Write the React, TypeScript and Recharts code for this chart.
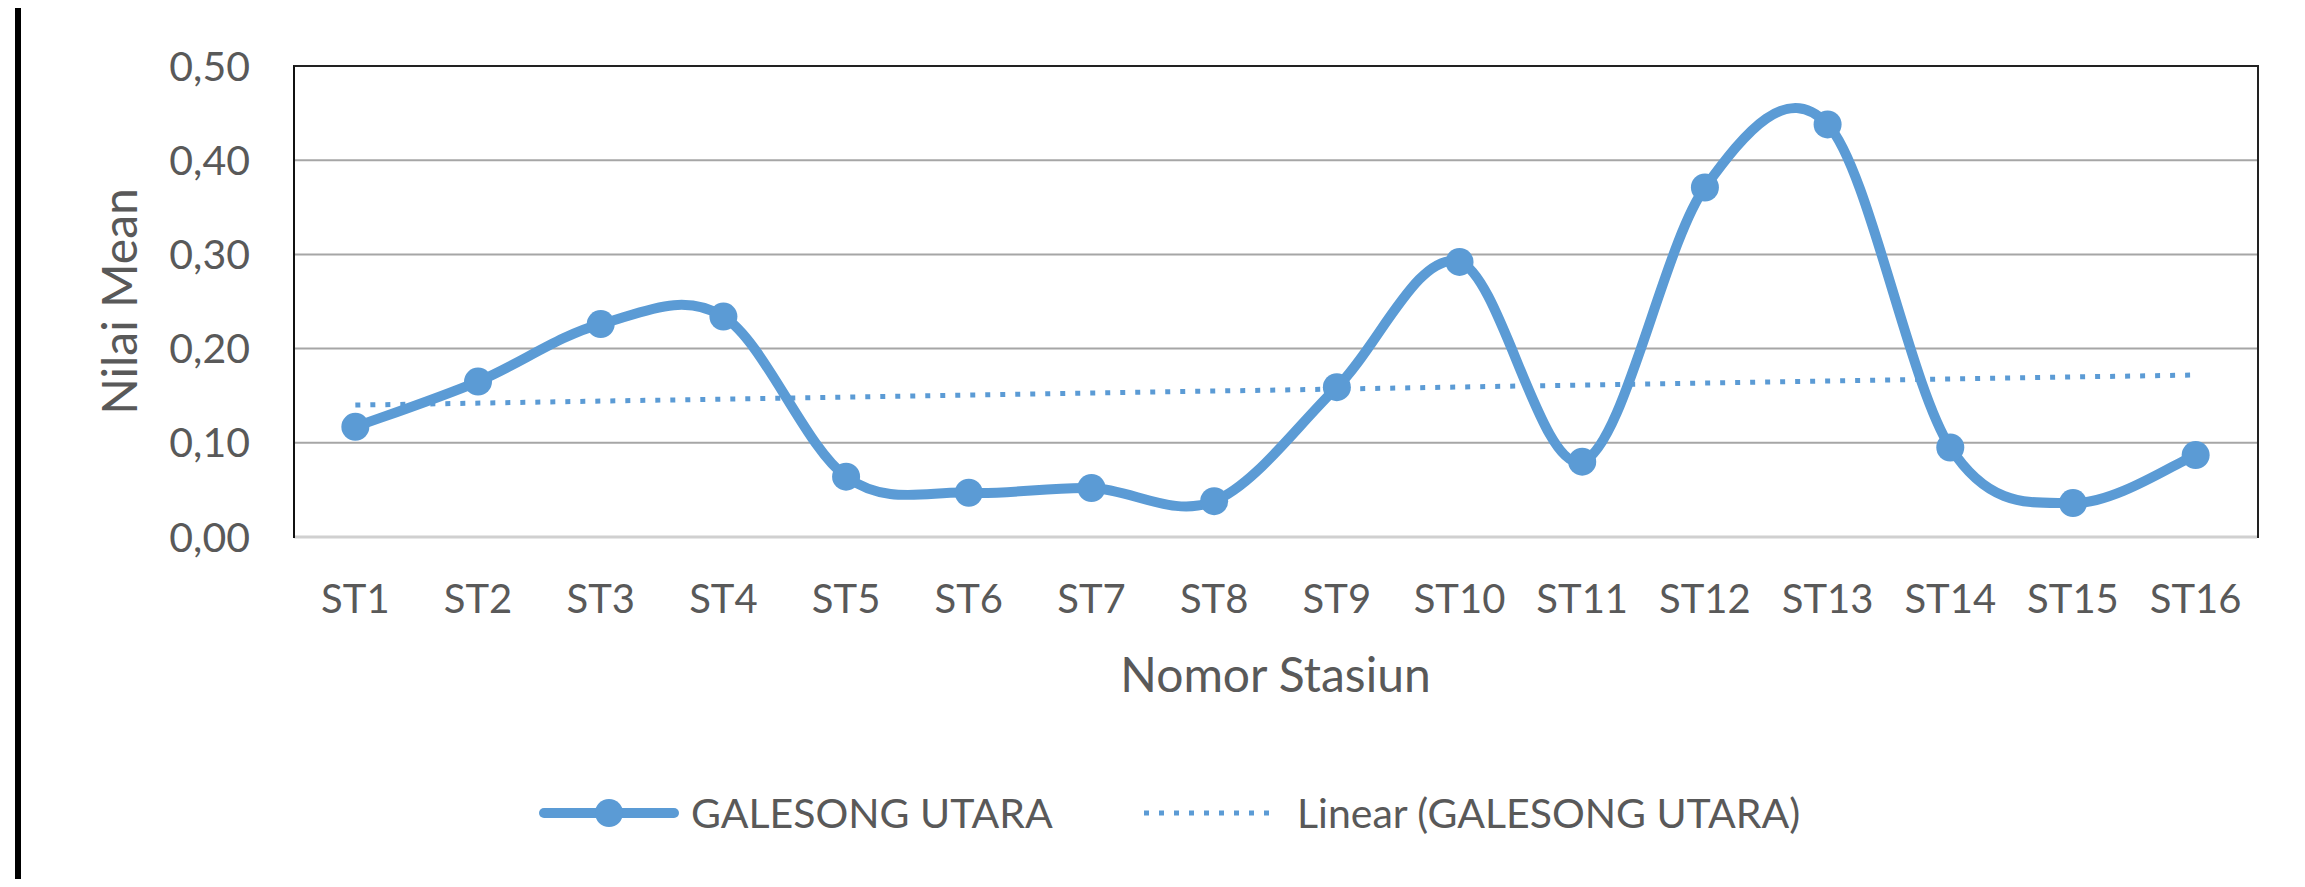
import React from "react";
import {
  LineChart,
  Line,
  XAxis,
  YAxis,
  CartesianGrid,
  Label,
} from "recharts";

const STATIONS = [
  "ST1", "ST2", "ST3", "ST4", "ST5", "ST6", "ST7", "ST8",
  "ST9", "ST10", "ST11", "ST12", "ST13", "ST14", "ST15", "ST16",
];
const MEAN_VALUES = [
  0.117, 0.165, 0.226, 0.234, 0.064, 0.047, 0.052, 0.038,
  0.159, 0.292, 0.080, 0.371, 0.438, 0.095, 0.036, 0.087,
];
// linear trend: value at the first and last station
const TREND_ENDS = [0.140, 0.172];
const Y_TICKS = [0, 0.1, 0.2, 0.3, 0.4, 0.5];

const SERIES_NAME = "GALESONG UTARA";
const TREND_NAME = "Linear (GALESONG UTARA)";

const BLUE = "#5B9BD5";
const TEXT = "#595959";
const FONT = "Lato, 'Open Sans', sans-serif";

const W = 2289;
const H = 871;
const PLOT = { left: 286, top: 58, right: 2249, bottom: 529 };

const rows = STATIONS.map((st, i) => ({
  st,
  mean: MEAN_VALUES[i],
  trend: i === 0 ? TREND_ENDS[0] : i === STATIONS.length - 1 ? TREND_ENDS[1] : null,
}));

const fmt = (v: number) => v.toFixed(2).replace(".", ",");

// Office-style smoothed line: cubic bezier through every point,
// control points taken from the neighbours (Catmull-Rom, 1/6 tension)
function smoothCurve(ctx: any) {
  let pts: [number, number][] = [];
  return {
    areaStart() {},
    areaEnd() {},
    lineStart() {
      pts = [];
    },
    point(x: number, y: number) {
      pts.push([+x, +y]);
    },
    lineEnd() {
      const n = pts.length;
      if (!n) return;
      ctx.moveTo(pts[0][0], pts[0][1]);
      for (let i = 0; i < n - 1; i++) {
        const p0 = pts[i - 1] ?? pts[i];
        const p1 = pts[i];
        const p2 = pts[i + 1];
        const p3 = pts[i + 2] ?? p2;
        ctx.bezierCurveTo(
          p1[0] + (p2[0] - p0[0]) / 6,
          p1[1] + (p2[1] - p0[1]) / 6,
          p2[0] - (p3[0] - p1[0]) / 6,
          p2[1] - (p3[1] - p1[1]) / 6,
          p2[0],
          p2[1]
        );
      }
    },
  };
}

function LegendBox() {
  const txt: React.CSSProperties = {
    position: "absolute",
    top: 0,
    fontFamily: FONT,
    fontSize: 41,
    color: TEXT,
    lineHeight: "50px",
    whiteSpace: "nowrap",
  };
  return (
    <div style={{ position: "absolute", left: 0, top: 780, width: W, height: 50 }}>
      <svg style={{ position: "absolute", left: 531, top: 0 }} width={140} height={50}>
        <line x1={5} y1={25} x2={135} y2={25} stroke={BLUE} strokeWidth={10} strokeLinecap="round" />
        <circle cx={70} cy={25} r={14} fill={BLUE} />
      </svg>
      <span style={{ ...txt, left: 683 }}>{SERIES_NAME}</span>
      <svg style={{ position: "absolute", left: 1136, top: 0 }} width={135} height={50}>
        <line x1={0} y1={25} x2={135} y2={25} stroke={BLUE} strokeWidth={5} strokeDasharray="5 10" />
      </svg>
      <span style={{ ...txt, left: 1289 }}>{TREND_NAME}</span>
    </div>
  );
}

export default function App() {
  return (
    <div style={{ position: "relative", width: W, height: H, background: "#fff" }}>
      {/* frame edge on the left */}
      <div style={{ position: "absolute", left: 7, top: -8, width: 6, height: 887, background: "#000" }} />
      <LineChart
        width={W}
        height={H}
        data={rows}
        margin={{ top: PLOT.top, right: W - PLOT.right, left: PLOT.left - 100, bottom: H - PLOT.bottom - 100 }}
        style={{ fontFamily: FONT }}
      >
        <CartesianGrid horizontal vertical={false} stroke="#a6a6a6" strokeWidth={2} />
        <XAxis
          dataKey="st"
          scale="band"
          height={100}
          tickLine={false}
          tickMargin={42}
          axisLine={{ stroke: "#d0d0d0", strokeWidth: 3 }}
          tick={{ fontSize: 40, fill: TEXT, fontFamily: FONT }}
          interval={0}
        >
          <Label
            content={({ viewBox }: any) => (
              <text
                x={viewBox.x + viewBox.width / 2}
                y={viewBox.y + 155}
                textAnchor="middle"
                fontSize={48}
                fill={TEXT}
                fontFamily={FONT}
              >
                Nomor Stasiun
              </text>
            )}
          />
        </XAxis>
        <YAxis
          domain={[0, 0.5]}
          ticks={Y_TICKS}
          tickFormatter={fmt}
          width={100}
          tickLine={false}
          tickMargin={38}
          axisLine={false}
          tick={{ fontSize: 41, fill: TEXT, fontFamily: FONT }}
        >
          <Label
            content={({ viewBox }: any) => {
              const cx = viewBox.x - 76;
              const cy = viewBox.y + viewBox.height / 2;
              return (
                <text
                  x={cx}
                  y={cy}
                  transform={`rotate(-90 ${cx} ${cy})`}
                  textAnchor="middle"
                  dominantBaseline="central"
                  fontSize={48}
                  fill={TEXT}
                  fontFamily={FONT}
                >
                  Nilai Mean
                </text>
              );
            }}
          />
        </YAxis>
        <Line
          dataKey="trend"
          name={TREND_NAME}
          type="linear"
          stroke={BLUE}
          strokeWidth={5}
          strokeDasharray="5 10"
          connectNulls
          dot={false}
          activeDot={false}
          isAnimationActive={false}
        />
        <Line
          dataKey="mean"
          name={SERIES_NAME}
          type={smoothCurve as any}
          stroke={BLUE}
          strokeWidth={10}
          dot={{ r: 14, fill: BLUE, stroke: BLUE, strokeWidth: 0 }}
          activeDot={false}
          isAnimationActive={false}
        />
      </LineChart>
      {/* plot-area border: left, top and right sides */}
      <div
        style={{
          position: "absolute",
          left: PLOT.left - 1,
          top: PLOT.top - 1,
          width: PLOT.right - PLOT.left - 1,
          height: PLOT.bottom - PLOT.top,
          borderLeft: "2.5px solid #111",
          borderTop: "2.5px solid #222",
          borderRight: "2.5px solid #222",
          pointerEvents: "none",
        }}
      />
      <LegendBox />
    </div>
  );
}
